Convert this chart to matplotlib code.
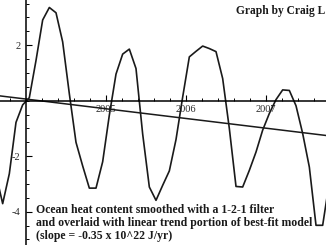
import matplotlib
matplotlib.use("Agg")
import matplotlib.pyplot as plt
from matplotlib.ticker import MultipleLocator
import numpy as np

# smoothed ocean heat content, monthly, starting Aug 2003 (10^22 J)
ohc = [-2.66, -3.71, -2.63, -0.78, -0.15, 0.11, 1.45, 2.91, 3.36, 3.17,
       2.12, 0.25, -1.50, -2.35, -3.15, -3.15, -2.20, -0.52, 0.96, 1.68,
       1.86, 1.16, -1.20, -3.11, -3.59, -3.05, -2.53, -1.40, 0.13, 1.58,
       1.78, 1.97, 1.88, 1.77, 0.80, -1.00, -3.09, -3.11, -2.51, -1.85,
       -1.06, -0.46, 0.04, 0.39, 0.37, -0.18, -1.18, -2.39, -4.49, -4.49,
       -2.93]
start_month = 8          # Aug 2003, mid-month time stamps
trend_slope = -0.35      # 10^22 J/yr
trend_offset = 0.06      # value at 2004.0

year_ticks = [2005, 2006, 2007]
y_ticks = [-4, -2, 2]

t = 2003 + (np.arange(len(ohc)) + start_month - 0.5) / 12.0
xlim = (2003.675, 2007.75)
tl = np.array(xlim)

fig = plt.figure(figsize=(3.26, 2.45), dpi=100)
ax = fig.add_axes([0, 0, 1, 1])
ax.plot(t, ohc, color="#1a1a1a", lw=1.2)
ax.plot(tl, trend_offset + trend_slope * (tl - 2004), color="#1a1a1a", lw=1.1)

ax.set_xlim(*xlim)
ax.set_ylim(-5.2, 3.63)

for s in ["top", "right"]:
    ax.spines[s].set_visible(False)
ax.spines["left"].set_position(("data", 2004))
ax.spines["bottom"].set_position(("data", 0))
ax.spines["left"].set_linewidth(1.1)
ax.spines["bottom"].set_linewidth(1.1)

ax.set_xticks(year_ticks)
ax.set_xticklabels([str(y) for y in year_ticks])
ax.xaxis.set_minor_locator(MultipleLocator(0.2))
ax.set_yticks(y_ticks)
ax.set_yticklabels([str(v) for v in y_ticks])
ax.yaxis.set_minor_locator(MultipleLocator(0.5))

ax.tick_params(axis="x", which="major", direction="in", length=4, width=0.8,
               pad=3, labelsize=7.5, labelcolor="#2a2a2a")
ax.tick_params(axis="x", which="minor", direction="in", length=2.5, width=0.7)
ax.tick_params(axis="y", which="major", direction="in", length=4, width=0.8,
               pad=4, labelsize=7.5, labelcolor="#2a2a2a")
ax.tick_params(axis="y", which="minor", direction="in", length=2.5, width=0.7)
for lab in ax.get_xticklabels() + ax.get_yticklabels():
    lab.set_family("Liberation Serif")

ax.text(0.997, 0.955, "Graph by Craig L", transform=ax.transAxes, ha="right",
        va="center", fontsize=8.3, fontweight="bold", family="Liberation Serif",
        color="#1a1a1a")
ax.text(0.11, 0.013,
        "Ocean heat content smoothed with a 1-2-1 filter\n"
        "and overlaid with linear trend portion of best-fit model\n"
        "(slope = -0.35 x 10^22 J/yr)",
        transform=ax.transAxes, ha="left", va="bottom", fontsize=8.5,
        fontweight="bold", family="Liberation Serif", color="#1a1a1a",
        linespacing=1.12)

fig.savefig("out.png", dpi=100)
